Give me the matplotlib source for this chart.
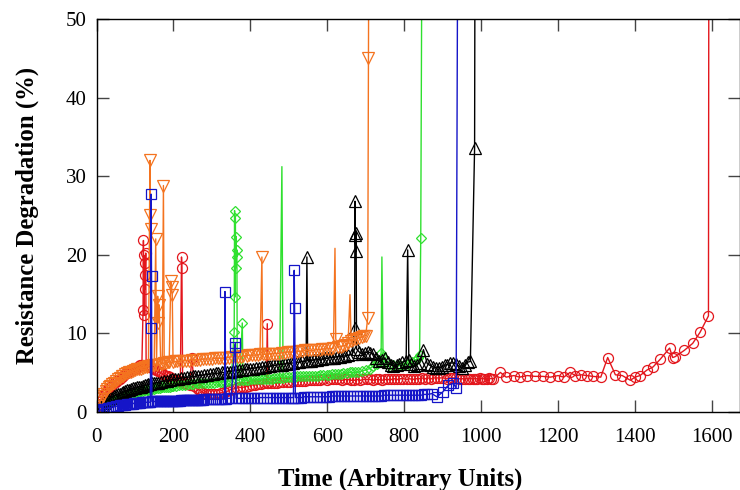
import matplotlib
matplotlib.use("Agg")
import matplotlib.pyplot as plt

# (time, degradation %), one list per sample
red_pts = [
    (0, 0.2), (4, 0.6), (8, 1.0), (12, 1.4), (16, 1.8), (20, 2.2), (24, 2.5), (28, 2.8),
    (32, 3.0), (36, 3.2), (40, 3.4), (45, 3.6), (50, 3.8), (55, 4.0), (60, 4.2), (65, 4.4),
    (70, 4.6), (75, 4.8), (80, 4.9), (85, 5.1), (90, 5.2), (95, 5.4), (100, 5.5), (105, 5.6),
    (110, 5.8), (114, 5.9), (118, 6.0),
    (121, 13.0), (122, 21.8), (123, 12.3), (124, 19.9), (125, 15.6), (126, 18.9), (127, 17.4),
    (128, 20.2), (129, 6.0),
    (132, 5.9), (136, 5.8), (140, 5.7), (145, 5.6), (150, 5.5), (155, 5.3), (160, 5.2),
    (165, 5.0), (170, 4.9), (175, 4.7), (180, 4.6), (185, 4.5), (190, 4.4), (195, 4.2),
    (200, 4.1), (205, 4.0), (210, 4.0), (214, 3.9), (218, 3.8), (221, 19.7), (222, 18.3),
    (224, 3.7), (230, 3.6), (235, 3.5), (242, 3.4), (248, 6.8), (254, 3.3), (260, 3.0),
    (266, 2.8), (272, 2.6), (278, 2.4), (285, 2.3), (292, 2.3), (300, 2.2), (308, 2.2),
    (316, 2.3), (324, 2.4), (332, 2.5), (340, 2.6), (348, 2.8), (356, 2.9), (364, 3.0),
    (372, 3.1), (380, 3.1), (388, 3.2), (396, 3.3), (404, 3.4), (412, 3.4), (420, 3.5),
    (428, 3.5), (436, 3.6), (442, 3.6), (444, 11.2), (446, 3.6), (454, 3.7), (462, 3.7),
    (470, 3.7), (478, 3.8), (486, 3.8), (494, 3.8), (502, 3.8), (510, 3.9), (518, 3.9),
    (526, 3.9), (534, 3.9), (542, 3.9), (550, 4.0), (558, 4.0), (566, 4.0), (574, 4.0),
    (582, 4.0), (590, 4.1), (598, 4.0), (606, 4.1), (614, 4.1), (622, 4.1), (630, 4.1),
    (638, 4.0), (646, 4.1), (654, 4.1), (662, 4.0), (670, 4.0), (678, 4.1), (686, 4.0),
    (694, 4.1), (702, 4.1), (710, 4.1), (718, 4.0), (726, 4.1), (734, 4.1), (742, 4.0),
    (750, 4.1), (758, 4.1), (766, 4.1), (774, 4.2), (782, 4.1), (790, 4.2), (798, 4.2),
    (806, 4.1), (814, 4.2), (822, 4.1), (830, 4.2), (838, 4.2), (846, 4.3), (854, 4.2),
    (862, 4.3), (870, 4.2), (878, 4.3), (886, 4.3), (894, 4.3), (902, 4.3), (910, 4.2),
    (918, 4.3), (926, 4.3), (934, 4.3), (942, 4.2), (950, 4.2), (958, 4.2), (966, 4.2),
    (972, 4.2), (978, 4.2), (984, 4.2), (990, 4.2), (996, 4.3), (1002, 4.2), (1008, 4.2),
    (1014, 4.2), (1020, 4.3), (1026, 4.2), (1032, 4.2),
    (1050, 5.0), (1065, 4.4), (1085, 4.6), (1100, 4.4), (1120, 4.6), (1140, 4.5),
    (1160, 4.5), (1180, 4.4), (1200, 4.6), (1215, 4.4), (1231, 5.0), (1245, 4.6),
    (1260, 4.7), (1275, 4.6), (1290, 4.5), (1311, 4.4), (1329, 6.9), (1349, 4.7),
    (1367, 4.6), (1388, 4.0), (1400, 4.4), (1413, 4.6), (1431, 5.3), (1447, 5.7),
    (1466, 6.7), (1490, 8.1), (1498, 6.9), (1504, 7.0), (1528, 7.8), (1550, 8.7),
    (1569, 10.1), (1591, 12.2), (1592, 60.0),
]

green_pts = [
    (0, 0.1), (5, 0.3), (10, 0.5), (15, 0.7), (20, 0.8), (25, 1.0), (30, 1.1), (35, 1.3),
    (40, 1.4), (45, 1.5), (50, 1.6), (55, 1.7), (60, 1.8), (65, 1.9), (70, 2.0), (75, 2.1),
    (80, 2.1), (85, 2.2), (90, 2.3), (95, 2.3), (100, 2.4), (105, 2.5), (110, 2.5),
    (115, 2.6), (120, 2.6), (125, 2.7), (130, 2.7), (135, 2.8), (140, 2.8), (145, 2.9),
    (150, 2.9), (155, 3.0), (160, 3.0), (165, 3.0), (170, 3.1), (175, 3.1), (180, 3.1),
    (185, 3.2), (190, 3.2), (195, 3.3), (200, 3.3), (207, 3.3), (215, 3.4), (222, 3.4),
    (230, 3.4), (237, 3.5), (245, 3.5), (252, 3.5), (260, 3.6), (267, 3.6), (275, 3.6),
    (282, 3.7), (290, 3.7), (297, 3.7), (305, 3.7), (312, 3.8), (320, 3.8), (327, 3.8),
    (335, 3.8), (342, 3.9), (350, 3.9),
    (358, 10.2), (359, 25.6), (360, 14.6), (361, 24.7), (362, 18.3), (363, 22.3),
    (364, 19.7), (365, 20.6), (366, 4.0), (372, 4.0), (379, 11.3), (381, 4.0),
    (388, 4.0), (395, 4.0), (402, 4.1), (410, 4.1), (418, 4.1), (425, 4.1), (432, 4.2),
    (440, 4.2), (448, 4.2), (455, 4.2), (462, 4.3), (470, 4.3), (476, 4.3), (482, 31.2),
    (485, 4.3), (492, 4.4), (500, 4.4), (508, 4.4), (515, 4.4), (522, 4.5), (530, 4.5),
    (538, 4.5), (545, 4.5), (552, 4.6), (560, 4.6), (568, 4.6), (575, 4.6), (582, 4.7),
    (590, 4.7), (598, 4.7), (605, 4.7), (612, 4.8), (620, 4.8), (628, 4.8), (635, 4.8),
    (642, 4.9), (650, 4.9), (658, 5.0), (665, 5.0), (672, 5.0), (680, 5.0), (690, 5.2),
    (700, 5.3), (710, 5.5), (720, 5.8), (728, 6.1), (735, 6.5), (740, 7.5), (742, 19.7),
    (745, 7.0), (752, 6.4), (760, 6.0), (770, 5.9), (780, 5.8), (790, 5.9), (800, 6.0),
    (810, 6.1), (820, 6.3), (828, 6.5), (835, 6.8), (840, 7.2), (843, 22.1), (846, 60.0),
]

black_pts = [
    (0, 0.1), (5, 0.3), (10, 0.6), (15, 0.9), (20, 1.1), (25, 1.3), (30, 1.5), (35, 1.7),
    (40, 1.8), (45, 2.0), (50, 2.1), (55, 2.2), (60, 2.3), (65, 2.4), (70, 2.5), (75, 2.6),
    (80, 2.7), (85, 2.8), (90, 2.9), (95, 3.0), (100, 3.0), (105, 3.1), (110, 3.2),
    (115, 3.2), (120, 3.3), (125, 3.4), (130, 3.4), (135, 3.5), (140, 3.5), (145, 3.6),
    (150, 3.6), (155, 3.7), (160, 3.7), (167, 3.8), (175, 3.9), (182, 3.9), (190, 4.0),
    (197, 4.1), (205, 4.1), (212, 4.2), (220, 4.3), (227, 4.3), (235, 4.4), (242, 4.4),
    (250, 4.5), (257, 4.5), (265, 4.6), (272, 4.6), (280, 4.7), (287, 4.7), (295, 4.8),
    (302, 4.8), (310, 4.9), (317, 4.9), (325, 5.0), (332, 5.0), (340, 5.1), (347, 5.1),
    (355, 5.2), (362, 5.2), (370, 5.3), (377, 5.3), (385, 5.4), (392, 5.4), (400, 5.5),
    (407, 5.5), (415, 5.6), (422, 5.6), (430, 5.7), (437, 5.7), (445, 5.8), (452, 5.8),
    (460, 5.9), (467, 5.9), (475, 6.0), (482, 6.0), (490, 6.1), (497, 6.1), (505, 6.2),
    (512, 6.2), (520, 6.3), (527, 6.3), (535, 6.4), (545, 6.4), (547, 19.7), (549, 6.5),
    (557, 6.5), (565, 6.6), (572, 6.6), (580, 6.7), (587, 6.7), (595, 6.8), (602, 6.8),
    (610, 6.9), (617, 6.9), (625, 7.0), (632, 7.0), (640, 7.1), (647, 7.1), (655, 7.2),
    (665, 7.3), (671, 10.7), (672, 26.8), (673, 22.5), (674, 20.4), (675, 22.8),
    (676, 8.0), (683, 7.6), (690, 7.4), (697, 7.5), (705, 7.6), (712, 7.5), (720, 7.3),
    (727, 6.9), (735, 6.4), (742, 6.6), (750, 6.8), (757, 6.3), (765, 6.0), (772, 5.8),
    (780, 5.9), (787, 6.1), (795, 6.3), (805, 6.5), (809, 20.6), (812, 6.6), (818, 6.1),
    (825, 5.8), (832, 6.0), (840, 6.2), (850, 7.9), (860, 6.1), (867, 5.9), (875, 5.7),
    (882, 5.6), (890, 5.6), (897, 5.7), (905, 5.9), (912, 6.0), (920, 6.2), (927, 6.2),
    (935, 6.1), (942, 5.8), (950, 5.6), (957, 6.0), (965, 6.3), (972, 6.4), (983, 33.6),
    (984, 60.0),
]

orange_pts = [
    (0, 0.2), (4, 0.7), (8, 1.2), (12, 1.6), (16, 2.0), (20, 2.3), (24, 2.6), (28, 2.9),
    (32, 3.1), (36, 3.3), (40, 3.5), (45, 3.7), (50, 3.9), (55, 4.1), (60, 4.3), (65, 4.5),
    (70, 4.6), (75, 4.8), (80, 4.9), (85, 5.0), (90, 5.1), (95, 5.2), (100, 5.3),
    (105, 5.4), (110, 5.5), (115, 5.5), (120, 5.6), (125, 5.7), (130, 5.7), (135, 5.8),
    (139, 32.0), (140, 25.1), (141, 23.3), (142, 5.8), (146, 5.9), (150, 6.0), (154, 22.0),
    (156, 6.0), (159, 14.7), (161, 11.3), (163, 13.6), (167, 6.1), (171, 6.1), (174, 28.8),
    (176, 6.2), (180, 6.2), (185, 6.3), (189, 6.3), (193, 16.6), (195, 15.9), (197, 14.9),
    (199, 6.3), (204, 6.4), (210, 6.4), (217, 6.4), (225, 6.5), (232, 6.5), (240, 6.5),
    (247, 6.6), (255, 6.6), (262, 6.6), (270, 6.6), (277, 6.7), (285, 6.7), (292, 6.7),
    (300, 6.7), (307, 6.8), (315, 6.8), (322, 6.8), (330, 6.8), (337, 6.9), (345, 6.9),
    (352, 7.0), (360, 7.0), (367, 7.0), (375, 7.0), (382, 7.1), (390, 7.1), (397, 7.2),
    (405, 7.2), (412, 7.2), (420, 7.2), (425, 7.3), (430, 19.7), (432, 7.3), (438, 7.3),
    (445, 7.3), (452, 7.4), (460, 7.4), (467, 7.4), (475, 7.4), (482, 7.5), (490, 7.5),
    (497, 7.6), (505, 7.6), (512, 7.6), (520, 7.6), (527, 7.7), (535, 7.7), (542, 7.8),
    (550, 7.8), (557, 7.8), (565, 7.8), (572, 7.9), (580, 7.9), (587, 8.0), (595, 8.0),
    (602, 8.0), (610, 8.0), (616, 8.1), (620, 20.8), (622, 9.3), (628, 8.2), (635, 8.3),
    (642, 8.4), (648, 8.5), (654, 8.7), (659, 14.9), (662, 9.0), (668, 9.1), (675, 9.2),
    (682, 9.4), (690, 9.5), (695, 9.6), (700, 9.7), (705, 11.9), (707, 45.0), (708, 60.0),
]

blue_pts = [
    (0, 0.0), (5, 0.1), (10, 0.2), (15, 0.3), (20, 0.4), (25, 0.4), (30, 0.5), (35, 0.5),
    (40, 0.6), (45, 0.6), (50, 0.7), (55, 0.7), (60, 0.8), (65, 0.8), (70, 0.9), (75, 0.9),
    (80, 1.0), (85, 1.0), (90, 1.0), (94, 1.0), (98, 1.1), (102, 1.1), (106, 1.1),
    (110, 1.1), (114, 1.1), (118, 1.2), (122, 1.2), (126, 1.2), (130, 1.2), (134, 1.2),
    (138, 1.2), (140, 1.2), (141, 10.7), (142, 27.7), (143, 17.3), (144, 1.3), (148, 1.3),
    (152, 1.3), (156, 1.3), (160, 1.3), (164, 1.3), (168, 1.3), (172, 1.3), (176, 1.4),
    (180, 1.4), (184, 1.4), (188, 1.4), (192, 1.4), (196, 1.4), (200, 1.4), (204, 1.4),
    (208, 1.4), (212, 1.4), (216, 1.4), (220, 1.5), (224, 1.5), (228, 1.5), (232, 1.5),
    (236, 1.5), (240, 1.5), (244, 1.5), (248, 1.5), (252, 1.5), (256, 1.5), (260, 1.5),
    (264, 1.5), (268, 1.5), (272, 1.5), (276, 1.5), (280, 1.6), (285, 1.6), (290, 1.6),
    (295, 1.6), (300, 1.6), (305, 1.6), (310, 1.6), (315, 1.6), (320, 1.6), (326, 1.6),
    (333, 1.6), (334, 15.3), (336, 1.6), (342, 1.7), (350, 1.7), (359, 8.2), (361, 8.7),
    (363, 1.7), (370, 1.7), (378, 1.7), (386, 1.7), (394, 1.7), (402, 1.7), (410, 1.7),
    (418, 1.7), (426, 1.8), (434, 1.8), (442, 1.8), (450, 1.8), (458, 1.8), (466, 1.8),
    (474, 1.8), (482, 1.8), (490, 1.8), (498, 1.8), (506, 1.8), (512, 1.8), (514, 18.0),
    (515, 13.2), (517, 1.8), (524, 1.8), (532, 1.8), (540, 1.9), (548, 1.9), (556, 1.9),
    (564, 1.9), (572, 1.9), (580, 1.9), (588, 1.9), (596, 1.9), (604, 1.9), (612, 2.0),
    (620, 2.0), (628, 2.0), (636, 2.0), (644, 2.0), (652, 2.0), (660, 2.0), (668, 2.0),
    (676, 2.0), (684, 2.0), (692, 2.0), (700, 2.0), (708, 2.0), (716, 2.0), (724, 2.0),
    (732, 2.0), (740, 2.0), (748, 2.1), (756, 2.1), (764, 2.1), (772, 2.1), (780, 2.1),
    (788, 2.1), (796, 2.1), (804, 2.1), (812, 2.1), (820, 2.1), (828, 2.1), (836, 2.1),
    (844, 2.1), (852, 2.2), (860, 2.2), (872, 2.3), (885, 1.9), (900, 2.5), (915, 3.4),
    (928, 3.6), (935, 3.0), (939, 60.0),
]

# spike tips drawn as bare line, without a marker
green_bare = [482, 742]
orange_bare = [620, 659]

x_ticks = [0, 200, 400, 600, 800, 1000, 1200, 1400, 1600]
y_ticks = [0, 10, 20, 30, 40, 50]

plt.rcParams['font.family'] = ['Liberation Serif', 'DejaVu Serif']

fig = plt.figure(figsize=(7.4, 4.9), dpi=100)
ax = fig.add_axes([96.5 / 740, 78.3 / 490, 643.5 / 740, 392.7 / 490])


def draw(pts, color, marker, ms, bare=()):
    xs = [p[0] for p in pts]
    ys = [p[1] for p in pts]
    keep = [i for i, x in enumerate(xs) if x not in bare]
    ax.plot(xs, ys, color=color, lw=1.0, marker=marker, ms=ms, mfc='none',
            mew=0.9, markevery=keep)


draw(red_pts, '#e3161c', 'o', 7.2)
draw(green_pts, '#2fe02f', 'D', 4.8, green_bare)
draw(black_pts, 'black', '^', 8)
draw(orange_pts, '#f4731f', 'v', 8, orange_bare)
draw(blue_pts, '#1515c8', 's', 7.5)

ax.set_xlim(0, 1673)
ax.set_ylim(0, 50)
ax.set_xticks(x_ticks)
ax.set_yticks(y_ticks)
ax.tick_params(direction='in', top=True, right=True, length=8.4, width=1,
               color='#444444', labelsize=15, pad=7)
ax.tick_params(axis='x', pad=12)
for s in ax.spines.values():
    s.set_linewidth(1)

ax.set_xlabel('Time (Arbitrary Units)', fontsize=17.8, fontweight='bold')
ax.set_ylabel('Resistance Degradation (%)', fontsize=17.8, fontweight='bold')
ax.xaxis.set_label_coords(0.472, -0.143)
ax.yaxis.set_label_coords(-0.09, 0.5)

fig.savefig('out.png', dpi=100)
